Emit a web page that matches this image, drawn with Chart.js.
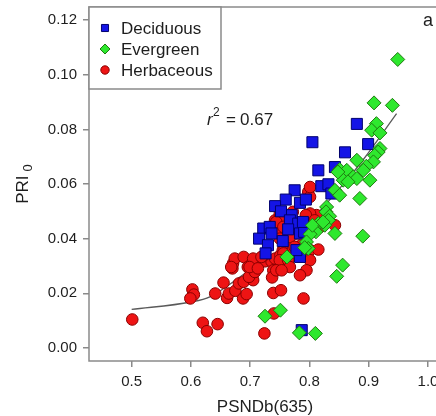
<!DOCTYPE html>
<html>
<head>
<meta charset="utf-8">
<script src="https://cdn.jsdelivr.net/npm/chart.js@4.4.1/dist/chart.umd.min.js"></script>
<style>
    html, body { margin: 0; padding: 0; background: #fff; overflow: hidden; }
    #wrap { width: 445px; height: 416px; }
</style>
</head>
<body>
<div id="wrap"><canvas id="chart-pri" width="445" height="416"></canvas></div>
<script>
/* ===== PRI0 vs PSNDb(635) scatter ===== */

const xTicks = [0.5, 0.6, 0.7, 0.8, 0.9, 1.0];
const yTicks = [0.00, 0.02, 0.04, 0.06, 0.08, 0.10, 0.12];

const decidX = [0.880, 0.805, 0.860, 0.899, 0.815, 0.843, 0.820, 0.832, 0.837, 0.775, 0.760, 0.742, 0.784, 0.794, 0.770, 0.752,
    0.722, 0.733, 0.736, 0.715, 0.730, 0.767, 0.781, 0.784, 0.791, 0.726, 0.784, 0.778, 0.764, 0.787, 0.789, 0.755];
const decidY = [0.0820, 0.0753, 0.0716, 0.0746, 0.0650, 0.0662, 0.0592, 0.0599, 0.0565, 0.0577, 0.0543, 0.0519, 0.0531, 0.0543, 0.0486, 0.0500,
    0.0437, 0.0443, 0.0419, 0.0400, 0.0376, 0.0467, 0.0455, 0.0419, 0.0425, 0.0346, 0.0333, 0.0358, 0.0434, 0.0065, 0.0461, 0.0391];

const everX = [0.949, 0.909, 0.940, 0.913, 0.905, 0.919, 0.919, 0.916, 0.910, 0.908, 0.896, 0.891, 0.880, 0.902, 0.885, 0.890,
    0.851, 0.863, 0.874, 0.857, 0.843, 0.851, 0.829, 0.828, 0.834, 0.832, 0.815, 0.843, 0.811, 0.801, 0.795, 0.798,
    0.762, 0.805, 0.792, 0.856, 0.846, 0.751, 0.725, 0.783, 0.810, 0.848, 0.880, 0.865, 0.826, 0.823];
const everY = [0.1056, 0.0897, 0.0888, 0.0821, 0.0797, 0.0787, 0.0730, 0.0717, 0.0705, 0.0681, 0.0665, 0.0650, 0.0687, 0.0614, 0.0547, 0.0409,
    0.0653, 0.0650, 0.0626, 0.0614, 0.0577, 0.0559, 0.0516, 0.0498, 0.0482, 0.0467, 0.0455, 0.0419, 0.0425, 0.0416, 0.0388, 0.0364,
    0.0333, 0.0449, 0.0367, 0.0303, 0.0262, 0.0138, 0.0116, 0.0055, 0.0053, 0.0644, 0.0620, 0.0608, 0.0449, 0.0461];

const herbX = [0.501, 0.6025, 0.605, 0.599, 0.620, 0.627, 0.645, 0.641, 0.655, 0.661, 0.664, 0.675, 0.688, 0.694, 0.681, 0.689,
    0.705, 0.670, 0.671, 0.674, 0.689, 0.696, 0.703, 0.713, 0.725, 0.736, 0.722, 0.742, 0.751, 0.755, 0.698, 0.708,
    0.739, 0.737, 0.739, 0.752, 0.790, 0.740, 0.724, 0.758, 0.767, 0.772, 0.781, 0.789, 0.801, 0.815, 0.761, 0.767,
    0.778, 0.795, 0.804, 0.812, 0.818, 0.830, 0.843, 0.801, 0.742, 0.750, 0.772, 0.798, 0.801, 0.758, 0.794, 0.809,
    0.742, 0.750, 0.767, 0.756, 0.744, 0.801, 0.705, 0.719, 0.699, 0.713, 0.750, 0.744, 0.764, 0.668, 0.773, 0.756,
    0.775, 0.801, 0.795, 0.767, 0.784, 0.753];
const herbY = [0.0104, 0.0214, 0.0195, 0.0181, 0.0092, 0.0061, 0.0087, 0.0199, 0.0239, 0.0183, 0.0199, 0.0209, 0.0181, 0.0197, 0.0236, 0.0242,
    0.0248, 0.0291, 0.0309, 0.0327, 0.0333, 0.0296, 0.0309, 0.0315, 0.0317, 0.0317, 0.0336, 0.0327, 0.0339, 0.0358, 0.0260, 0.0278,
    0.0284, 0.0258, 0.0201, 0.0211, 0.0181, 0.0126, 0.0053, 0.0364, 0.0382, 0.0358, 0.0370, 0.0382, 0.0358, 0.0360, 0.0425, 0.0443,
    0.0419, 0.0455, 0.0474, 0.0486, 0.0443, 0.0467, 0.0449, 0.0492, 0.0467, 0.0492, 0.0498, 0.0571, 0.0553, 0.0467, 0.0486, 0.0467,
    0.0425, 0.0400, 0.0406, 0.0346, 0.0461, 0.0589, 0.0327, 0.0333, 0.0296, 0.0291, 0.0321, 0.0284, 0.0321, 0.0296, 0.0467, 0.0443,
    0.0370, 0.0321, 0.0284, 0.0296, 0.0266, 0.0284];

// fitted curve
const fitX = [0.500, 0.600, 0.632, 0.700, 0.745, 0.800, 0.863, 0.890, 0.947];
const fitY = [0.0141, 0.0168, 0.0187, 0.0285, 0.0340, 0.0460, 0.0614, 0.0687, 0.0858];

const FONT = '"Liberation Sans", Arial, Helvetica, sans-serif';
const FRAME = '#8a8a8a';
const TEXT = '#1e1e1e';

// order: lower = drawn later (on top)
const SERIES = [
    { label: 'Deciduous', xs: decidX, ys: decidY, style: 'rect', radius: 7.8, legendR: 5, fill: '#1414e6', stroke: '#00006e', order: 2 },
    { label: 'Evergreen', xs: everX, ys: everY, style: 'rectRot', radius: 7, legendR: 5, fill: '#2ee82e', stroke: '#1f7a10', order: 1 },
    { label: 'Herbaceous', xs: herbX, ys: herbY, style: 'circle', radius: 5.8, legendR: 4.2, fill: '#ee1414', stroke: '#8a0000', order: 3 }
];

const toPoints = (xs, ys) => xs.map((x, i) => ({ x: x, y: ys[i] }));

// frame, legend box, axis titles and notes
const decorPlugin = {
    id: 'decor',
    afterDraw(chart) {
        const ctx = chart.ctx;
        const a = chart.chartArea;
        ctx.save();

        ctx.strokeStyle = FRAME;
        ctx.lineWidth = 1.5;
        ctx.strokeRect(a.left, a.top, a.right - a.left, a.bottom - a.top);

        // legend
        const lx = a.left, ly = a.top, lw = 132, lh = 82;
        ctx.fillStyle = '#fff';
        ctx.fillRect(lx, ly, lw, lh);
        ctx.strokeRect(lx, ly, lw, lh);
        SERIES.forEach((s, i) => {
            const y = ly + 21 + i * 21;
            ctx.fillStyle = s.fill;
            ctx.strokeStyle = s.stroke;
            ctx.lineWidth = 1;
            Chart.helpers.drawPoint(ctx, { pointStyle: s.style, radius: s.legendR, rotation: 0, borderWidth: 1 }, lx + 16, y);
            ctx.fillStyle = TEXT;
            ctx.font = '17px ' + FONT;
            ctx.textAlign = 'left';
            ctx.textBaseline = 'middle';
            ctx.fillText(s.label, lx + 32, y + 1);
        });

        ctx.fillStyle = TEXT;
        ctx.textBaseline = 'alphabetic';

        // x title
        ctx.font = '17px ' + FONT;
        ctx.textAlign = 'center';
        ctx.fillText('PSNDb(635)', (a.left + a.right) / 2, 412);

        // y title: PRI with subscript 0
        ctx.save();
        ctx.translate(28, (a.top + a.bottom) / 2);
        ctx.rotate(-Math.PI / 2);
        ctx.font = '17px ' + FONT;
        const w1 = ctx.measureText('PRI').width;
        ctx.font = '13px ' + FONT;
        const w2 = ctx.measureText('0').width;
        const start = -(w1 + 4 + w2) / 2;
        ctx.textAlign = 'left';
        ctx.font = '17px ' + FONT;
        ctx.fillText('PRI', start, 0);
        ctx.font = '13px ' + FONT;
        ctx.fillText('0', start + w1 + 4, 4);
        ctx.restore();

        // r^2 note
        ctx.textAlign = 'left';
        ctx.font = 'italic 17px ' + FONT;
        ctx.fillText('r', 207, 125);
        ctx.font = '12px ' + FONT;
        ctx.fillText('2', 213, 116);
        ctx.font = '17px ' + FONT;
        ctx.fillText('=', 226, 125);
        ctx.fillText('0.67', 240, 125);

        // panel letter
        ctx.font = '18px ' + FONT;
        ctx.fillText('a', 423, 26);

        ctx.restore();
    }
};

const datasets = SERIES.map(s => ({
    label: s.label,
    data: toPoints(s.xs, s.ys),
    pointStyle: s.style,
    pointRadius: s.radius,
    pointBackgroundColor: s.fill,
    pointBorderColor: s.stroke,
    pointBorderWidth: 1,
    showLine: false,
    order: s.order
}));

datasets.push({
    label: 'fit',
    data: toPoints(fitX, fitY),
    showLine: true,
    borderColor: '#5a5a5a',
    borderWidth: 1.3,
    pointRadius: 0,
    cubicInterpolationMode: 'monotone',
    order: 4
});

const ctx = document.getElementById('chart-pri').getContext('2d');

new Chart(ctx, {
    type: 'scatter',
    data: { datasets: datasets },
    options: {
        responsive: false,
        animation: false,
        layout: { autoPadding: false, padding: { top: 7, right: 4, left: 0, bottom: 0 } },
        plugins: {
            legend: { display: false },
            tooltip: { enabled: false }
        },
        scales: {
            x: {
                type: 'linear',
                min: 0.428,
                max: 1.022,
                afterBuildTicks: axis => { axis.ticks = xTicks.map(v => ({ value: v })); },
                afterFit: axis => {
                    axis.height = 55;
                    axis.paddingLeft = 0;
                    axis.paddingRight = 0;
                },
                border: { display: false },
                grid: { drawOnChartArea: false, drawTicks: true, tickLength: 6, color: FRAME, lineWidth: 1.5 },
                ticks: {
                    color: TEXT,
                    padding: 6,
                    maxRotation: 0,
                    autoSkip: false,
                    font: { family: FONT, size: 15 },
                    callback: v => Number(v).toFixed(1)
                }
            },
            y: {
                type: 'linear',
                min: -0.0048,
                max: 0.1248,
                afterBuildTicks: axis => { axis.ticks = yTicks.map(v => ({ value: v })); },
                afterFit: axis => {
                    axis.width = 89;
                    axis.paddingTop = 0;
                    axis.paddingBottom = 0;
                },
                border: { display: false },
                grid: { drawOnChartArea: false, drawTicks: true, tickLength: 6, color: FRAME, lineWidth: 1.5 },
                ticks: {
                    color: TEXT,
                    padding: 6,
                    autoSkip: false,
                    font: { family: FONT, size: 15 },
                    callback: v => Number(v).toFixed(2)
                }
            }
        }
    },
    plugins: [decorPlugin]
});
</script>
</body>
</html>
